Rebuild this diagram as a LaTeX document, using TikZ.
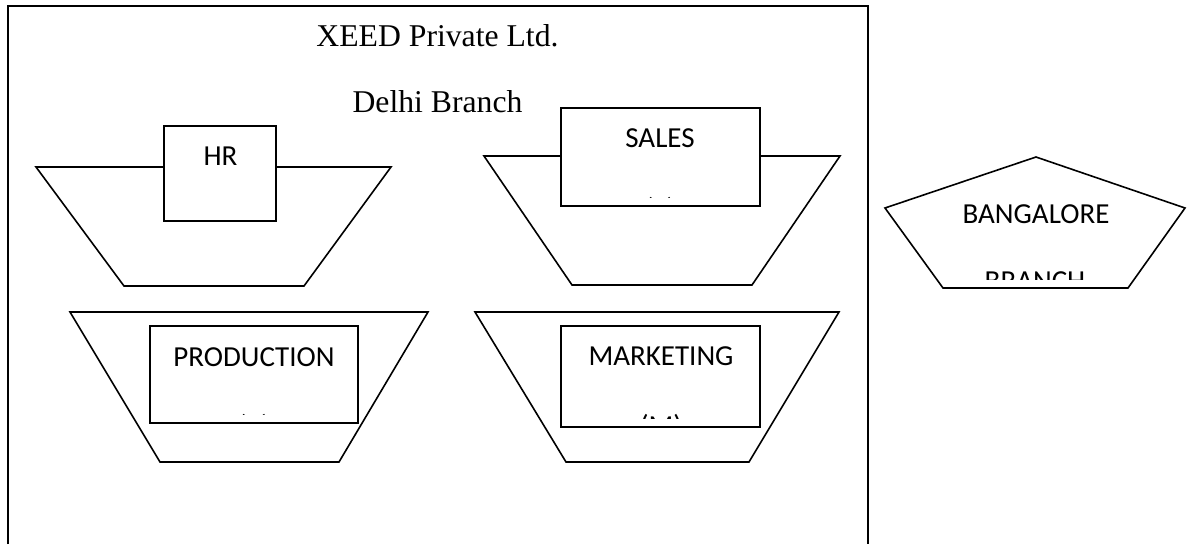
\documentclass[tikz,border=0pt]{standalone}
\usepackage{fontspec}
\setmainfont{Liberation Serif}
\newfontfamily\boxfont{Carlito}
\usetikzlibrary{positioning}

\begin{document}
\begin{tikzpicture}[x=1pt,y=-1pt,line width=1.6pt,line join=miter,
	unit/.style={draw,fill=white,rectangle,inner sep=0pt},
	tag/.style={inner sep=0pt,anchor=base,font=\boxfont\fontsize{29}{35}\selectfont},
	heading/.style={inner sep=0pt,anchor=base,font=\fontsize{31.7}{38}\selectfont}]
    \useasboundingbox (0,0) rectangle (1187,544);
    % Delhi branch frame
    \draw (8,544) -- (8,6) -- (868,6) -- (868,544);
    \node[heading] (firm) at (437.5,46) {XEED Private Ltd.};
    \node[heading] (delhi) at (437.5,112) {Delhi Branch};
    % tubs
    \draw (36,167) -- (124,286) -- (304,286) -- (391,167) -- cycle;
    \draw (484,156) -- (572,285) -- (752,285) -- (840,156) -- cycle;
    \draw (70,312) -- (160,462) -- (339,462) -- (428,312) -- cycle;
    \draw (475,312) -- (566,462) -- (749,462) -- (839,312) -- cycle;
    % departments
    \node[unit,minimum width=112pt,minimum height=95pt] (hr) at (220,173.5) {};
    \node[unit,minimum width=199pt,minimum height=98pt] (sales) at (660.5,157) {};
    \node[unit,minimum width=208pt,minimum height=97pt] (prod) at (254,374.5) {};
    \node[unit,minimum width=199pt,minimum height=101pt] (mkt) at (660.5,376.5) {};
    \node[tag] (hrname) at (220.5,165) {HR};
    \node[tag] (salesname) at (660,147) {SALES};
    \node[tag] (prodname) at (254,366) {PRODUCTION};
    \node[tag] (mktname) at (661,365) {MARKETING};
    \begin{scope}
      \clip (sales.north west) rectangle ([yshift=9pt]sales.south east);
      \node[tag] (salescode) at (660,218) {(S)};
    \end{scope}
    \begin{scope}
      \clip (prod.north west) rectangle ([yshift=9pt]prod.south east);
      \node[tag] (prodcode) at (254,435) {(P)};
    \end{scope}
    \begin{scope}
      \clip (mkt.north west) rectangle ([yshift=9pt]mkt.south east);
      \node[tag] (mktcode) at (661,435) {(M)};
    \end{scope}
    % Bangalore branch
    \draw (1036,157) -- (1185,208) -- (1128,288) -- (943,288) -- (885,208) -- cycle;
    \node[tag] (blr) at (1036,223) {BANGALORE};
    \begin{scope}
      \clip (885,157) rectangle (1185,279);
      \node[tag] (blrline) at (1035,290) {BRANCH};
    \end{scope}
\end{tikzpicture}
\end{document}
